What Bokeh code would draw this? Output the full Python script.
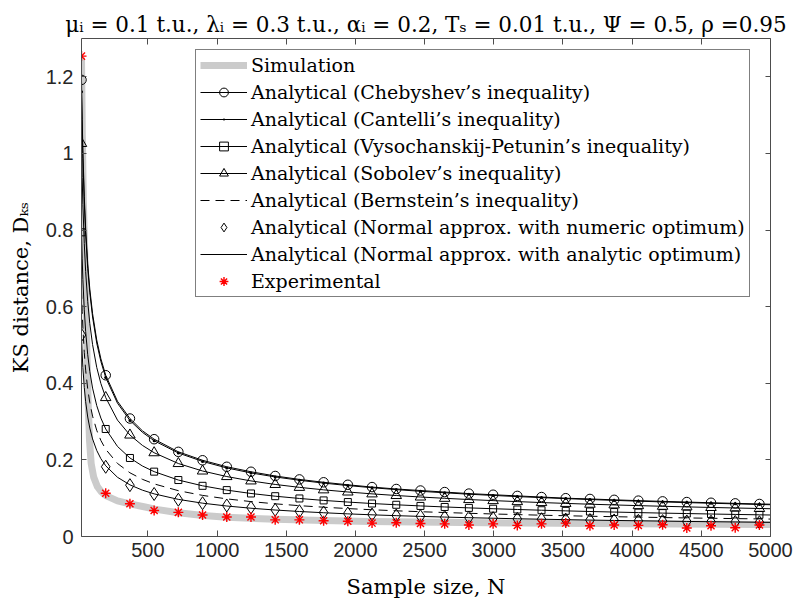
from bokeh.plotting import figure
from bokeh.models import Range1d, FixedTicker, LinearAxis, Legend, LegendItem
from bokeh.embed import file_html
from bokeh.resources import INLINE

# ---------------- data ----------------
N_MARK = [20, 195, 370, 545, 720, 895, 1070, 1245, 1420, 1595, 1770, 1945, 2120, 2295,
          2470, 2645, 2820, 2995, 3170, 3345, 3520, 3695, 3870, 4045, 4220, 4395, 4570,
          4745, 4920]
N_LINE = [20, 25, 30, 40, 50, 65, 80, 100, 130, 160, 195, 280, 370, 460, 545, 720, 895,
          1070, 1245, 1420, 1595, 1770, 1945, 2120, 2295, 2470, 2645, 2820, 2995, 3170,
          3345, 3520, 3695, 3870, 4045, 4220, 4395, 4570, 4745, 4920, 5000]

CHEBYSHEV = [1.192, 1.088, 1.007, 0.888, 0.804, 0.712, 0.646, 0.582, 0.513, 0.464, 0.421,
             0.353, 0.308, 0.276, 0.254, 0.221, 0.199, 0.182, 0.169, 0.158, 0.149, 0.1415,
             0.135, 0.129, 0.124, 0.120, 0.116, 0.112, 0.109, 0.106, 0.103, 0.100, 0.098,
             0.0957, 0.0936, 0.0917, 0.0899, 0.0881, 0.0865, 0.0849, 0.0843]
CANTELLI = [1.161, 1.066, 0.987, 0.871, 0.789, 0.700, 0.636, 0.573, 0.505, 0.457, 0.415,
            0.348, 0.303, 0.272, 0.250, 0.218, 0.196, 0.179, 0.166, 0.1555, 0.1468, 0.1394,
            0.133, 0.1274, 0.1224, 0.118, 0.1141, 0.1104, 0.1072, 0.1042, 0.1015, 0.0989,
            0.0965, 0.0943, 0.0922, 0.0903, 0.0885, 0.0868, 0.0852, 0.0836, 0.0829]
VYSOCHANSKIJ = [0.794, 0.7248, 0.671, 0.5918, 0.5353, 0.4745, 0.4306, 0.3874, 0.3417,
                0.3091, 0.2807, 0.2351, 0.2050, 0.1841, 0.1693, 0.1474, 0.1323, 0.1211,
                0.1123, 0.1052, 0.0993, 0.0942, 0.0899, 0.0861, 0.0828, 0.0798, 0.0771,
                0.0747, 0.0725, 0.0705, 0.0686, 0.0669, 0.0653, 0.0638, 0.0624, 0.0611,
                0.0599, 0.0587, 0.0576, 0.0566, 0.0561]
SOBOLEV = [1.026, 0.937, 0.867, 0.765, 0.692, 0.613, 0.556, 0.501, 0.4415, 0.3994, 0.3627,
           0.3038, 0.2649, 0.2379, 0.2187, 0.1905, 0.1710, 0.1565, 0.1451, 0.1359, 0.1283,
           0.1218, 0.1162, 0.1113, 0.1070, 0.1031, 0.0997, 0.0965, 0.0937, 0.0911, 0.0886,
           0.0864, 0.0843, 0.0824, 0.0806, 0.0789, 0.0773, 0.0758, 0.0744, 0.0731, 0.0725]
BERNSTEIN = [0.644, 0.5879, 0.5443, 0.480, 0.4342, 0.3849, 0.3493, 0.3142, 0.2772, 0.2507,
             0.2277, 0.1907, 0.1663, 0.1493, 0.1373, 0.1196, 0.1073, 0.0982, 0.0911, 0.0853,
             0.0805, 0.0764, 0.0729, 0.0698, 0.0671, 0.0647, 0.0626, 0.0606, 0.0588, 0.0572,
             0.0556, 0.0542, 0.0529, 0.0517, 0.0506, 0.0495, 0.0485, 0.0476, 0.0467, 0.0459,
             0.0455]
NORMAL_ANALYTIC = [0.522, 0.4765, 0.4412, 0.3891, 0.3519, 0.3119, 0.2831, 0.2547, 0.2246,
                   0.2032, 0.1846, 0.1546, 0.1348, 0.1210, 0.1113, 0.0969, 0.0870, 0.0796,
                   0.0738, 0.0691, 0.0653, 0.0620, 0.0591, 0.0566, 0.0544, 0.0525, 0.0507,
                   0.0491, 0.0477, 0.0463, 0.0451, 0.0440, 0.0429, 0.0419, 0.0410, 0.0402,
                   0.0393, 0.0386, 0.0379, 0.0372, 0.0369]
NORMAL_NUMERIC = [0.526, 0.182, 0.134, 0.111, 0.096, 0.087, 0.081, 0.0757, 0.0697, 0.066,
                  0.0626, 0.060, 0.0574, 0.0548, 0.053, 0.0505, 0.0495, 0.048, 0.046, 0.0451,
                  0.0440, 0.0429, 0.0419, 0.0410, 0.0402, 0.0393, 0.0386, 0.0379, 0.0372]
EXPERIMENTAL = [1.254, 0.113, 0.0853, 0.068, 0.063, 0.056, 0.051, 0.051, 0.0435, 0.0435,
                0.041, 0.040, 0.035, 0.036, 0.034, 0.033, 0.030, 0.033, 0.029, 0.033, 0.035,
                0.028, 0.030, 0.029, 0.0305, 0.022, 0.028, 0.023, 0.030]
SIM_N = [20, 26, 33, 45, 58, 68, 78, 90, 108, 135, 165, 200, 280, 370, 480, 550, 720, 900,
         1070, 1420, 1770, 2100, 2600, 3200, 4000, 5000]
SIM_Y = [1.25, 1.05, 0.88, 0.72, 0.5, 0.35, 0.25, 0.19, 0.155, 0.13, 0.116, 0.106, 0.093,
         0.085, 0.077, 0.0715, 0.062, 0.055, 0.050, 0.045, 0.042, 0.039, 0.037, 0.035,
         0.033, 0.031]

X_TICKS = [500, 1000, 1500, 2000, 2500, 3000, 3500, 4000, 4500, 5000]
Y_TICKS = [0, 0.2, 0.4, 0.6, 0.8, 1.0, 1.2]
Y_TICK_LABELS = ["0", "0.2", "0.4", "0.6", "0.8", "1", "1.2"]

TITLE = ("\u03bc\u1d62 = 0.1 t.u., \u03bb\u1d62 = 0.3 t.u., \u03b1\u1d62 = 0.2, "
         "T\u209b = 0.01 t.u., \u03a8 = 0.5, \u03c1 =0.95")
X_LABEL = "Sample size, N"
Y_LABEL = "KS distance, D\u2096\u209b"

LABELS = [
    "Simulation",
    "Analytical (Chebyshev\u2019s inequality)",
    "Analytical (Cantelli\u2019s inequality)",
    "Analytical (Vysochanskij-Petunin\u2019s inequality)",
    "Analytical (Sobolev\u2019s inequality)",
    "Analytical (Bernstein\u2019s inequality)",
    "Analytical (Normal approx. with numeric optimum)",
    "Analytical (Normal approx. with analytic optimum)",
    "Experimental",
]

idx = [N_LINE.index(n) for n in N_MARK]


def at_marks(vals):
    return [vals[i] for i in idx]


# ---------------- figure ----------------
FRAME_L, FRAME_T, FRAME_W, FRAME_H = 81, 38, 689, 498
FRAME_B = FRAME_T + FRAME_H
SERIF = "DejaVu Serif"

p = figure(frame_width=FRAME_W, frame_height=FRAME_H,
           min_border_left=FRAME_L, min_border_right=794 - FRAME_L - FRAME_W,
           min_border_top=FRAME_T, min_border_bottom=601 - FRAME_B,
           x_range=Range1d(20, 5000), y_range=Range1d(0, 1.3),
           output_backend="svg", toolbar_location=None)
p.grid.visible = False
p.outline_line_color = None
p.background_fill_color = "white"
p.border_fill_color = "white"

p.title.text = TITLE
p.title.align = "center"
p.title.text_font = SERIF
p.title.text_font_size = "21.5px"
p.title.text_font_style = "normal"
p.title.text_color = "black"
p.title.standoff = 4

AX_COLOR = "#4d4d4d"
TICK_FONT = "Liberation Sans"


def style_axis(ax, ticks, tick_len, show_labels):
    ax.ticker = FixedTicker(ticks=ticks)
    ax.major_tick_in = tick_len
    ax.major_tick_out = 0
    ax.minor_tick_in = 0
    ax.minor_tick_out = 0
    ax.axis_line_color = AX_COLOR
    ax.axis_line_width = 1
    ax.major_tick_line_color = AX_COLOR
    ax.major_tick_line_width = 1
    if show_labels:
        ax.major_label_text_font = TICK_FONT
        ax.major_label_text_font_size = "20px"
        ax.major_label_text_color = "#262626"
    else:
        ax.major_label_text_font_size = "0px"
        ax.major_label_text_alpha = 0
        ax.major_label_standoff = 0


xa = p.xaxis[0]
style_axis(xa, X_TICKS, 6, True)
xa.major_label_standoff = 6
xa.axis_label = X_LABEL
xa.axis_label_text_font = SERIF
xa.axis_label_text_font_size = "21px"
xa.axis_label_text_font_style = "normal"
xa.axis_label_text_color = "black"
xa.axis_label_standoff = 15

ya = p.yaxis[0]
style_axis(ya, Y_TICKS, 5, True)
ya.major_label_standoff = 8
ya.major_label_overrides = {t: s for t, s in zip(Y_TICKS, Y_TICK_LABELS)}
ya.axis_label = Y_LABEL
ya.axis_label_text_font = SERIF
ya.axis_label_text_font_size = "21px"
ya.axis_label_text_font_style = "normal"
ya.axis_label_text_color = "black"
ya.axis_label_standoff = 10

top_ax = LinearAxis()
style_axis(top_ax, X_TICKS, 6, False)
p.add_layout(top_ax, "above")
right_ax = LinearAxis()
style_axis(right_ax, Y_TICKS, 5, False)
p.add_layout(right_ax, "right")

# ---------------- glyphs ----------------
r_sim = p.line(SIM_N, SIM_Y, line_color="#cbcbcb", line_width=7, line_join="round")

r_cheb_l = p.line(N_LINE, CHEBYSHEV, line_color="black", line_width=1)
r_cant_l = p.line(N_LINE, CANTELLI, line_color="black", line_width=1)
r_vp_l = p.line(N_LINE, VYSOCHANSKIJ, line_color="black", line_width=1)
r_sob_l = p.line(N_LINE, SOBOLEV, line_color="black", line_width=1)
r_bern = p.line(N_LINE, BERNSTEIN, line_color="black", line_width=1, line_dash="9 6")
r_norm_l = p.line(N_LINE, NORMAL_ANALYTIC, line_color="black", line_width=1)

r_cheb_m = p.scatter(N_MARK, at_marks(CHEBYSHEV), marker="circle", size=9.5,
                     fill_color=None, line_color="black", line_width=1)
r_cant_m = p.scatter(N_MARK, at_marks(CANTELLI), marker="dot", size=12,
                     fill_color="black", line_color="black", line_width=1)
r_vp_m = p.scatter(N_MARK, at_marks(VYSOCHANSKIJ), marker="square", size=7,
                   fill_color=None, line_color="black", line_width=1)
r_sob_m = p.scatter(N_MARK, at_marks(SOBOLEV), marker="triangle", size=10.5,
                    fill_color=None, line_color="black", line_width=1)
r_num_m = p.scatter(N_MARK, NORMAL_NUMERIC, marker="diamond", size=13,
                    fill_color=None, line_color="black", line_width=1)
r_exp = p.scatter(N_MARK, EXPERIMENTAL, marker="asterisk", size=10,
                  line_color="#ff0000", line_width=1.4)

renderer_groups = [[r_sim], [r_cheb_l, r_cheb_m], [r_cant_l, r_cant_m], [r_vp_l, r_vp_m],
                   [r_sob_l, r_sob_m], [r_bern], [r_num_m], [r_norm_l], [r_exp]]
legend = Legend(items=[LegendItem(label=lab, renderers=rs)
                       for lab, rs in zip(LABELS, renderer_groups)],
                location=(114, 239))
legend.label_text_font = SERIF
legend.label_text_font_size = "19px"
legend.label_text_color = "black"
legend.glyph_width = 47
legend.glyph_height = 22
legend.label_height = 22
legend.label_standoff = 4
legend.spacing = 5
legend.padding = 4
legend.margin = 0
legend.border_line_color = "black"
legend.border_line_width = 1
legend.background_fill_color = "white"
legend.background_fill_alpha = 1
p.add_layout(legend)

open("out.html", "w").write(file_html(p, INLINE))
